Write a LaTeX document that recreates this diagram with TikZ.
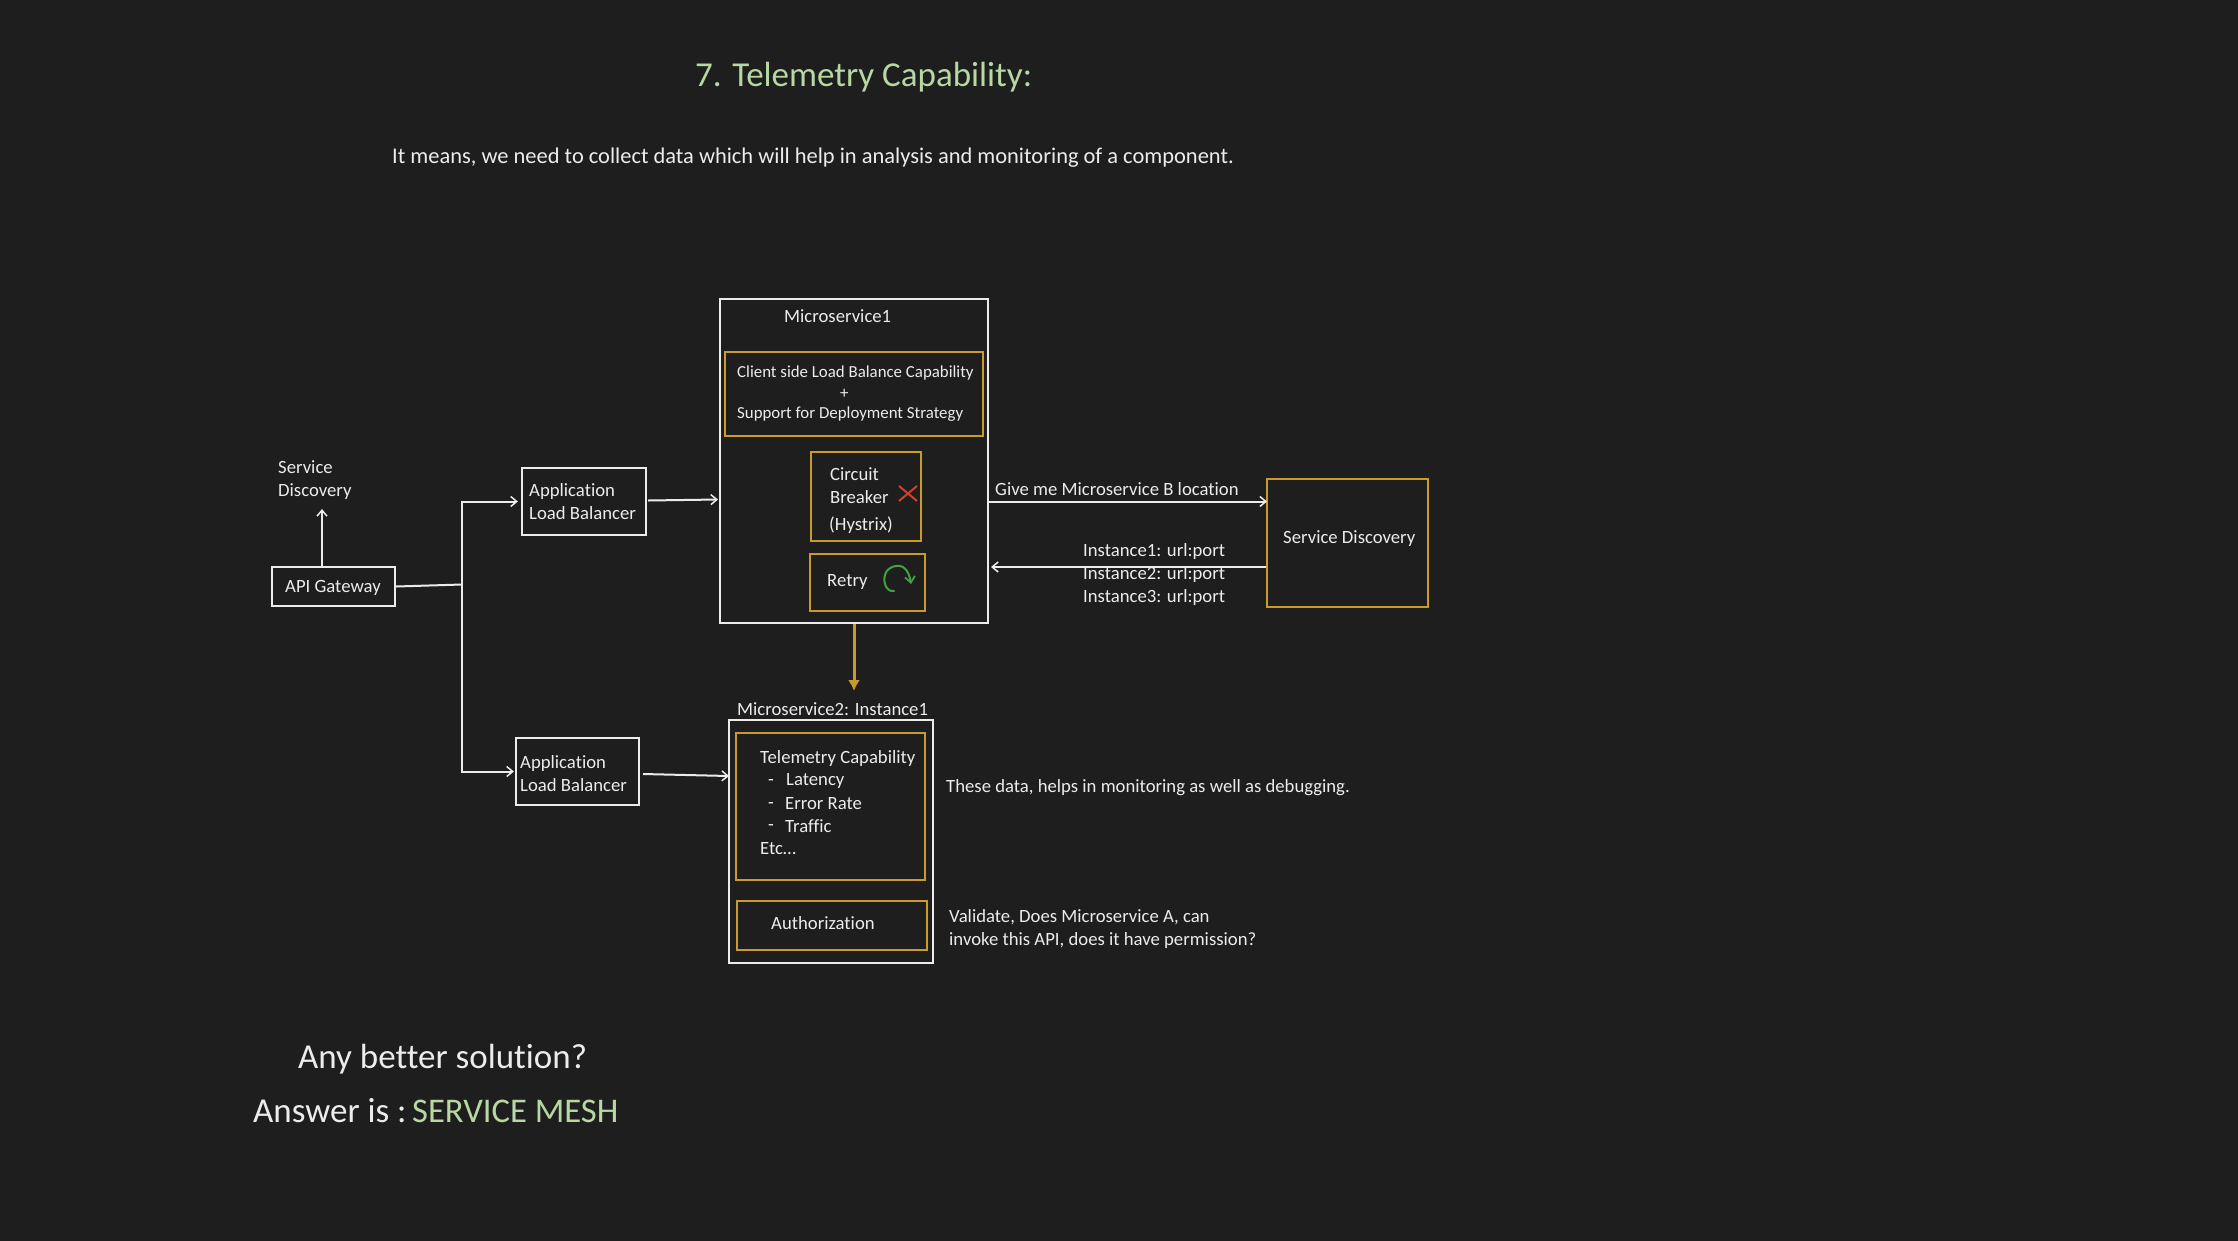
\documentclass[tikz,border=0pt]{standalone}
\usepackage{fontspec}
\setmainfont[Ligatures=NoCommon]{Carlito}
\usetikzlibrary{arrows.meta,fit}
\definecolor{bgc}{HTML}{1E1E1E}
\definecolor{wht}{HTML}{ECECEC}
\definecolor{gold}{HTML}{C99A2E}
\definecolor{lgreen}{HTML}{B7D7A3}
\definecolor{xred}{HTML}{D0402F}
\definecolor{cgreen}{HTML}{3FA33F}
\tikzset{
  wbox/.style={draw=wht,line width=2.2pt,inner sep=0pt},
  gbox/.style={draw=gold,line width=2.6pt,inner sep=0pt},
  txt/.style={text=wht,anchor=west,inner sep=0pt,align=left,font=\fontsize{18.7}{23}\selectfont},
  small/.style={txt,font=\fontsize{16.85}{21}\selectfont},
  conn/.style={draw=wht,line width=2pt,-{Straight Barb[length=6pt,width=10pt,line width=1.5pt]}},
  plain/.style={draw=wht,line width=2pt},
  bigt/.style={anchor=west,inner sep=0pt,font=\fontsize{35}{40}\selectfont},
}
\begin{document}
\begin{tikzpicture}[x=1pt,y=-1pt]
\fill[bgc,overlay] (-5,-5) rectangle (2243,1245);
\useasboundingbox (0,0) rectangle (2238,1240);
% headings
\node[bigt,text=lgreen] (title) at (695,77) {7. Telemetry Capability:};
\node[txt,font=\fontsize{22.45}{26}\selectfont] (sub) at (392,157.5) {It means, we need to collect data which will help in analysis and monitoring of a component.};
\node[bigt,text=wht] (q) at (298,1059) {Any better solution?};
\node[bigt,text=wht] (a) at (253,1111) {Answer is :};
\node[bigt,text=lgreen,font=\fontsize{34.6}{40}\selectfont] (ans) at (412,1111) {SERVICE MESH};
% boxes
\node[wbox,fit={(272,567)(395,606)}] (gw) {};
\node[wbox,fit={(522,468)(646,535)}] (alba) {};
\node[wbox,fit={(516,738)(639,805)}] (albb) {};
\node[wbox,fit={(720,299)(988,623)}] (ma) {};
\node[gbox,fit={(725,352)(983,436)}] (client) {};
\node[gbox,fit={(811,452)(921,541)}] (cb) {};
\node[gbox,fit={(810,554)(925,611)}] (retry) {};
\node[gbox,fit={(1267,479)(1428,607)}] (sd) {};
\node[wbox,fit={(729,720)(933,963)}] (mb) {};
\node[gbox,fit={(736,733)(925,880)}] (tele) {};
\node[gbox,fit={(737,901)(927,950)}] (auth) {};
% texts
\node[txt] (tsdl) at (278,480) {Service\\Discovery};
\node[txt] (tgw) at (285,588) {API Gateway};
\node[txt] (talba) at (529,501.5) {Application\\Load Balancer};
\node[txt] (talbb) at (520,773.5) {Application\\Load Balancer};
\node[txt] (tma) at (784,316.5) {Microservice1};
\node[small] (tc1) at (737,373) {Client side Load Balance Capability};
\node[small] (tc2) at (840,394) {+};
\node[small] (tc3) at (737,414.5) {Support for Deployment Strategy};
\node[txt] (tcb1) at (830,474) {Circuit};
\node[txt] (tcb2) at (830,497) {Breaker};
\node[txt] (tcb3) at (829,525) {(Hystrix)};
\node[txt] (tre) at (827,582) {Retry};
\node[txt] (tgive) at (995,489) {Give me Microservice B location};
\node[txt] (ti1) at (1083,552) {Instance1: url:port};
\node[txt] (ti2) at (1083,575) {Instance2: url:port};
\node[txt] (ti3) at (1083,598) {Instance3: url:port};
\node[txt] (tsd) at (1283,539) {Service Discovery};
\node[txt] (tmb) at (737,709) {Microservice2: Instance1};
\node[txt] (tt0) at (760,759) {Telemetry Capability};
\node[txt] (tt1) at (768,781) {\vphantom{Ly}-};
\node[txt] (tt1b) at (786,781) {Latency};
\node[txt] (tt2) at (768,804) {\vphantom{Ly}-};
\node[txt] (tt2b) at (785,804) {Error Rate};
\node[txt] (tt3) at (768,826) {\vphantom{Ly}-};
\node[txt] (tt3b) at (785,826) {Traffic};
\node[txt] (tt4) at (760,849) {Etc…};
\node[txt] (tau) at (771,923) {Authorization};
\node[txt] (tdata) at (946,788) {These data, helps in monitoring as well as debugging.};
\node[txt] (tval) at (949,929) {Validate, Does Microservice A, can\\invoke this API, does it have permission?};
% connector helper points
\coordinate (sdtip) at (322,509);
\coordinate (junc) at (462,584.5);
\coordinate (ytip) at (854,691);
\coordinate (req) at (1267,501.5);
\coordinate (rsp) at (991,567);
\coordinate (albaout) at (648,500.5);
\coordinate (albain) at (718,499.5);
\coordinate (albbout) at (643,774);
\coordinate (albbin) at (729,776);
% connectors
\draw[conn] (gw.north -| sdtip) -- (sdtip);
\draw[plain] (gw.east) -- (junc);
\draw[conn] (junc) |- ([xshift=-3pt]alba.west);
\draw[conn] (junc) |- ([xshift=-1pt]albb.west);
\draw[conn] (albaout) -- (albain);
\draw[conn] (albbout) -- (albbin);
\draw[conn] (ma.east |- req) -- (req);
\draw[conn] (sd.west |- rsp) -- (rsp);
\draw[draw=gold,line width=3pt,-{Latex[length=11pt,width=12pt]}] (ma.south -| ytip) -- (ytip);
% icons
\coordinate (xa) at (899,486); \coordinate (xb) at (917,501);
\draw[draw=xred,line width=2pt] (xa) -- (xb) (xa |- xb) -- (xb |- xa);
\coordinate (ca) at (894,591); \coordinate (cb2) at (911,584);
\draw[draw=cgreen,line width=2pt,line cap=round,-{Straight Barb[length=6pt,width=10pt,line width=1.8pt]}]
  (ca) .. controls (886,592) and (883,582) .. (885,575)
  .. controls (887,567) and (897,564) .. (903,567)
  .. controls (908,570) and (910,577) .. (cb2);
\end{tikzpicture}
\end{document}
